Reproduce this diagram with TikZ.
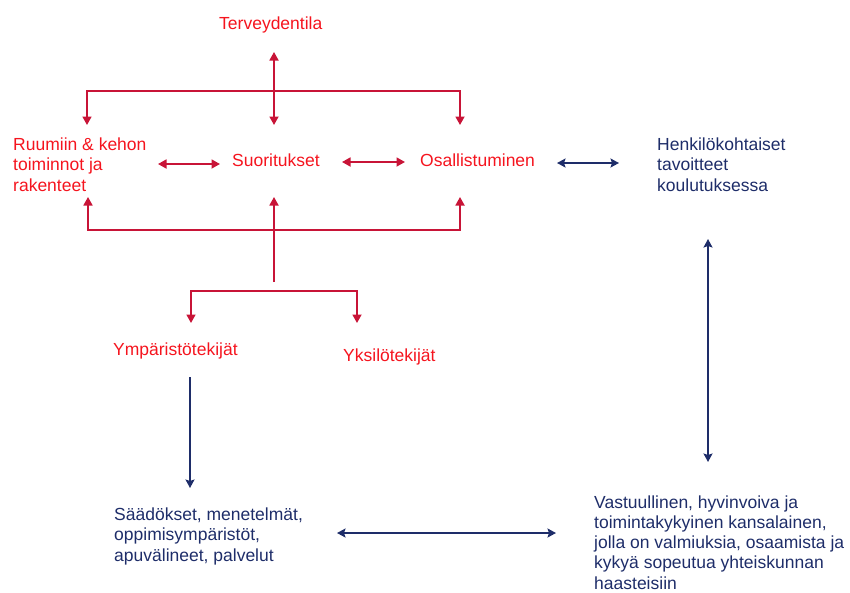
\documentclass[tikz,border=0pt]{standalone}
\usepackage{fontspec}
\setmainfont{Liberation Sans}
\usetikzlibrary{arrows.meta}

\definecolor{icfred}{RGB}{245,20,30}
\definecolor{icfline}{RGB}{200,20,55}
\definecolor{navy}{RGB}{30,45,105}

% multi-line labels are placed by the baseline of their last line
\tikzset{
  lbl/.style={inner sep=0pt, anchor=base west, align=left,
    font=\fontsize{17.5}{20.2}\selectfont},
  redlbl/.style={lbl, text=icfred},
  navylbl/.style={lbl, text=navy},
  redarrow/.style={draw=icfline, line width=1.7pt,
    arrows={Triangle[length=8.5pt,width=9pt]-Triangle[length=8.5pt,width=9pt]}},
  redarrowend/.style={draw=icfline, line width=1.7pt,
    arrows={-Triangle[length=8.5pt,width=9pt]}},
  navyarrow/.style={draw=navy, line width=1.7pt,
    arrows={Stealth[length=8.5pt,width=9pt,inset=1.5pt]-Stealth[length=8.5pt,width=9pt,inset=1.5pt]}},
  navyarrowend/.style={draw=navy, line width=1.7pt,
    arrows={-Stealth[length=8.5pt,width=9pt,inset=1.5pt]}}
}

\begin{document}
\begin{tikzpicture}[x=1pt,y=-1pt]
\useasboundingbox (0,0) rectangle (850,592);

% ICF components
\node[redlbl] (terv) at (219,29.5) {Terveydentila};
\node[redlbl] (ruum) at (13,191) {Ruumiin \& kehon\\toiminnot ja\\rakenteet};
\node[redlbl] (suor) at (232,166.5) {Suoritukset};
\node[redlbl] (osal) at (420,166) {Osallistuminen};
\node[redlbl] (ymp) at (113,355.5) {Ympäristötekijät};
\node[redlbl] (yks) at (343,361) {Yksilötekijät};

% educational goals
\node[navylbl] (henk) at (657,191) {Henkilökohtaiset\\tavoitteet\\koulutuksessa};
\node[navylbl] (saad) at (114,561) {Säädökset, menetelmät,\\oppimisympäristöt,\\apuvälineet, palvelut};
\node[navylbl] (vast) at (594,589) {Vastuullinen, hyvinvoiva ja\\toimintakykyinen kansalainen,\\jolla on valmiuksia, osaamista ja\\kykyä sopeutua yhteiskunnan\\haasteisiin};

% arrow end points
\coordinate (tervS) at (274,52);
\coordinate (suorN) at (274,125);
\coordinate (ruumN) at (87,125);
\coordinate (osalN) at (460,125);
\coordinate (topbus) at (274,91);
\coordinate (ruumE) at (158,164);
\coordinate (suorW) at (220,164);
\coordinate (suorE) at (342,162);
\coordinate (osalW) at (405,162);
\coordinate (ruumS) at (88,197);
\coordinate (suorS) at (274,197);
\coordinate (osalS) at (460,197);
\coordinate (botbus) at (274,230);
\coordinate (stem) at (274,282);
\coordinate (factbus) at (274,291);
\coordinate (ympN) at (191,323);
\coordinate (yksN) at (357,323);
\coordinate (osalE) at (557,163);
\coordinate (henkW) at (619,163);
\coordinate (henkS) at (708,239);
\coordinate (vastN) at (708,462);
\coordinate (ympS) at (190,377);
\coordinate (saadN) at (190,488);
\coordinate (saadE) at (337,533);
\coordinate (vastW) at (556,533);

% red connectors
\draw[redarrow] (tervS) -- (suorN);
\draw[redarrow] (ruumN) |- (topbus) -| (osalN);
\draw[redarrow] (ruumE) -- (suorW);
\draw[redarrow] (suorE) -- (osalW);
\draw[redarrow] (ruumS) |- (botbus) -| (osalS);
\draw[redarrowend] (stem) -- (suorS);
\draw[redarrow] (ympN) |- (factbus) -| (yksN);

% navy connectors
\draw[navyarrow] (osalE) -- (henkW);
\draw[navyarrow] (henkS) -- (vastN);
\draw[navyarrowend] (ympS) -- (saadN);
\draw[navyarrow] (saadE) -- (vastW);
\end{tikzpicture}
\end{document}
